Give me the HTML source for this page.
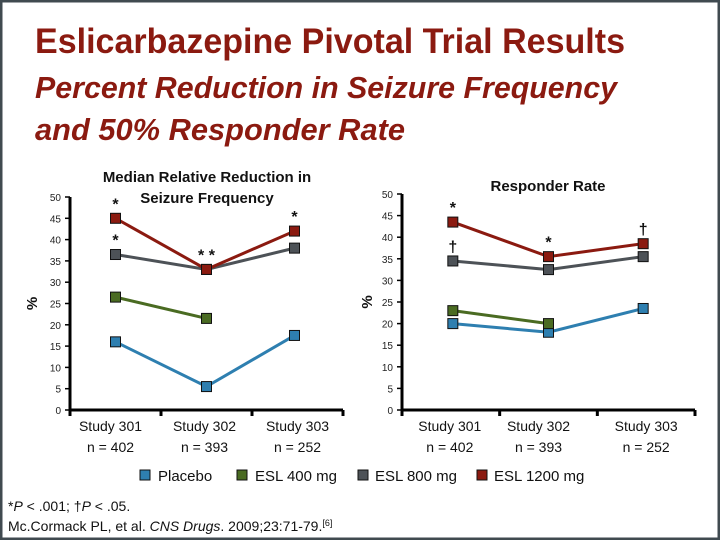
<!DOCTYPE html>
<html><head><meta charset="utf-8"><style>
html,body{margin:0;padding:0;background:#fff}
svg{display:block;font-family:"Liberation Sans",sans-serif}
</style></head><body>
<svg id="s" width="720" height="540" viewBox="0 0 720 540">
<rect x="1" y="1" width="718" height="538" fill="#fff" stroke="#404a50" stroke-width="3"/>
<text x="35" y="53" font-size="35" font-weight="bold" fill="#8b1a10" textLength="590" lengthAdjust="spacingAndGlyphs">Eslicarbazepine Pivotal Trial Results</text>
<text x="35" y="98" font-size="31" font-weight="bold" font-style="italic" fill="#8b1a10" textLength="582" lengthAdjust="spacingAndGlyphs">Percent Reduction in Seizure Frequency</text>
<text x="35" y="140" font-size="31" font-weight="bold" font-style="italic" fill="#8b1a10" textLength="370" lengthAdjust="spacingAndGlyphs">and 50% Responder Rate</text>
<g id="charts"></g>
<g>
<rect x="140" y="470" width="10" height="10" fill="#2e7fb0" stroke="#111"/>
<text x="158" y="481" font-size="15" fill="#111">Placebo</text>
<rect x="237" y="470" width="10" height="10" fill="#4a6b22" stroke="#111"/>
<text x="255" y="481" font-size="15" fill="#111">ESL 400 mg</text>
<rect x="358" y="470" width="10" height="10" fill="#4d5257" stroke="#111"/>
<text x="375" y="481" font-size="15" fill="#111">ESL 800 mg</text>
<rect x="477" y="470" width="10" height="10" fill="#8b1a10" stroke="#111"/>
<text x="494" y="481" font-size="15" fill="#111">ESL 1200 mg</text>
</g>
<text x="8" y="511" font-size="14" fill="#111">*<tspan font-style="italic">P</tspan> &lt; .001; †<tspan font-style="italic">P</tspan> &lt; .05.</text>
<text x="8" y="531" font-size="14" fill="#111">Mc.Cormack PL, et al. <tspan font-style="italic">CNS Drugs</tspan>. 2009;23:71-79.<tspan font-size="9" dy="-5">[6]</tspan></text>
</svg>
<script>
const categories = ["Study 301","Study 302","Study 303"];
const nLabels = ["n = 402","n = 393","n = 252"];
const yTicks = [0,5,10,15,20,25,30,35,40,45,50];
const seriesNames = ["Placebo","ESL 400 mg","ESL 800 mg","ESL 1200 mg"];
const leftPlacebo = [16,5.5,17.5];
const leftEsl400 = [26.5,21.5,null];
const leftEsl800 = [36.5,33,38];
const leftEsl1200 = [45,33,42];
const rightPlacebo = [20,18,23.5];
const rightEsl400 = [23,20,null];
const rightEsl800 = [34.5,32.5,35.5];
const rightEsl1200 = [43.5,35.5,38.5];
const leftMarks = [{s:3,i:0,t:"*"},{s:2,i:0,t:"*"},{s:3,i:1,t:"* *"},{s:3,i:2,t:"*"}];
const rightMarks = [{s:3,i:0,t:"*"},{s:2,i:0,t:"†"},{s:3,i:1,t:"*"},{s:3,i:2,t:"†"}];
const colors = ["#2e7fb0","#4a6b22","#4d5257","#8b1a10"];
const NS="http://www.w3.org/2000/svg";
const root=document.getElementById('charts');
function mk(tag,attrs,parent){const e=document.createElementNS(NS,tag);for(const k in attrs)e.setAttribute(k,attrs[k]);(parent||root).appendChild(e);return e;}
function chart(cfg){
  const g=mk('g',{});
  
  
  const y=v=>cfg.y0-(v/50)*(cfg.y0-cfg.y50);
  const bw=(cfg.x1-cfg.x0)/categories.length;
  const x=i=>cfg.x0+bw*(i+0.5)+(cfg.offs?cfg.offs[i]:0);
  const ya=mk('line',{x1:cfg.x0,y1:y(50),x2:cfg.x0,y2:y(0),stroke:'#000','stroke-width':3},g);
  
  
  const xa=mk('line',{x1:cfg.x0,y1:y(0),x2:cfg.x1,y2:y(0),stroke:'#000','stroke-width':3},g);
  
  
  yTicks.forEach(v=>{
    const tl=mk('line',{x1:cfg.x0-5,y1:y(v),x2:cfg.x0,y2:y(v),stroke:'#000','stroke-width':1.5},g);
    
    
    const t=mk('text',{x:cfg.x0-9,y:y(v)+4,'font-size':10,'text-anchor':'end',fill:'#222'},g);
    t.textContent=v;
    
    
  });
  for(let i=0;i<=categories.length;i++){
    const tx=cfg.x0+bw*i;
    const tk=mk('line',{x1:tx,y1:y(0),x2:tx,y2:y(0)+6,stroke:'#000','stroke-width':3},g);
    
    
  }
  categories.forEach((c,i)=>{
    const lx=cfg.x0+bw*(i+0.5)+cfg.lab[i];
    const t=mk('text',{x:lx,y:y(0)+21,'font-size':14,'text-anchor':'middle',fill:'#111'},g);
    t.textContent=c;
    
    
    const n=mk('text',{x:lx,y:y(0)+42,'font-size':14,'text-anchor':'middle',fill:'#111'},g);
    n.textContent=nLabels[i];
    
    
  });
  const yt=mk('text',{x:0,y:0,'font-size':15,'font-weight':'bold','text-anchor':'middle',fill:'#111'},g);
  yt.setAttribute('transform','translate('+cfg.yTitleX+','+y(25)+') rotate(-90)');
  yt.textContent='%';
  
  
  cfg.title.forEach((ln,k)=>{
    const t=mk('text',{x:cfg.titleX,y:cfg.titleY+k*21,'font-size':15,'font-weight':'bold','text-anchor':'middle',fill:'#111'},g);
    t.textContent=ln;
    
    
  });
  cfg.series.forEach((arr,s)=>{
    const pts=arr.map((v,i)=>v==null?null:[x(i),y(v)]).filter(p=>p);
    const pl=mk('polyline',{points:pts.map(p=>p.join(',')).join(' '),fill:'none',stroke:colors[s],'stroke-width':3},g);
    
    
    pts.forEach(p=>{
      const r=mk('rect',{x:p[0]-5,y:p[1]-5,width:10,height:10,fill:colors[s],stroke:'#111','stroke-width':1},g);
      
      
    });
  });
  cfg.marks.forEach(m=>{
    const v=cfg.series[m.s][m.i];
    const t=mk('text',{x:x(m.i),y:y(v)-9,'font-size':16,'font-weight':'bold','text-anchor':'middle',fill:'#111'},g);
    t.textContent=m.t;
    
    
  });
}
chart({name:'seizure-reduction-chart',x0:70,x1:343,y0:410,y50:197,offs:[0,0,-3],lab:[-5,-2,0],yTitleX:37,
  title:['Median Relative Reduction in','Seizure Frequency'],titleX:207,titleY:182,
  series:[leftPlacebo,leftEsl400,leftEsl800,leftEsl1200],marks:leftMarks});
chart({name:'responder-rate-chart',x0:402,x1:695,y0:410,y50:194,offs:[2,0,-3],lab:[-1,-10,0],yTitleX:372,
  title:['Responder Rate'],titleX:548,titleY:191,
  series:[rightPlacebo,rightEsl400,rightEsl800,rightEsl1200],marks:rightMarks});
</script>
</body></html>
